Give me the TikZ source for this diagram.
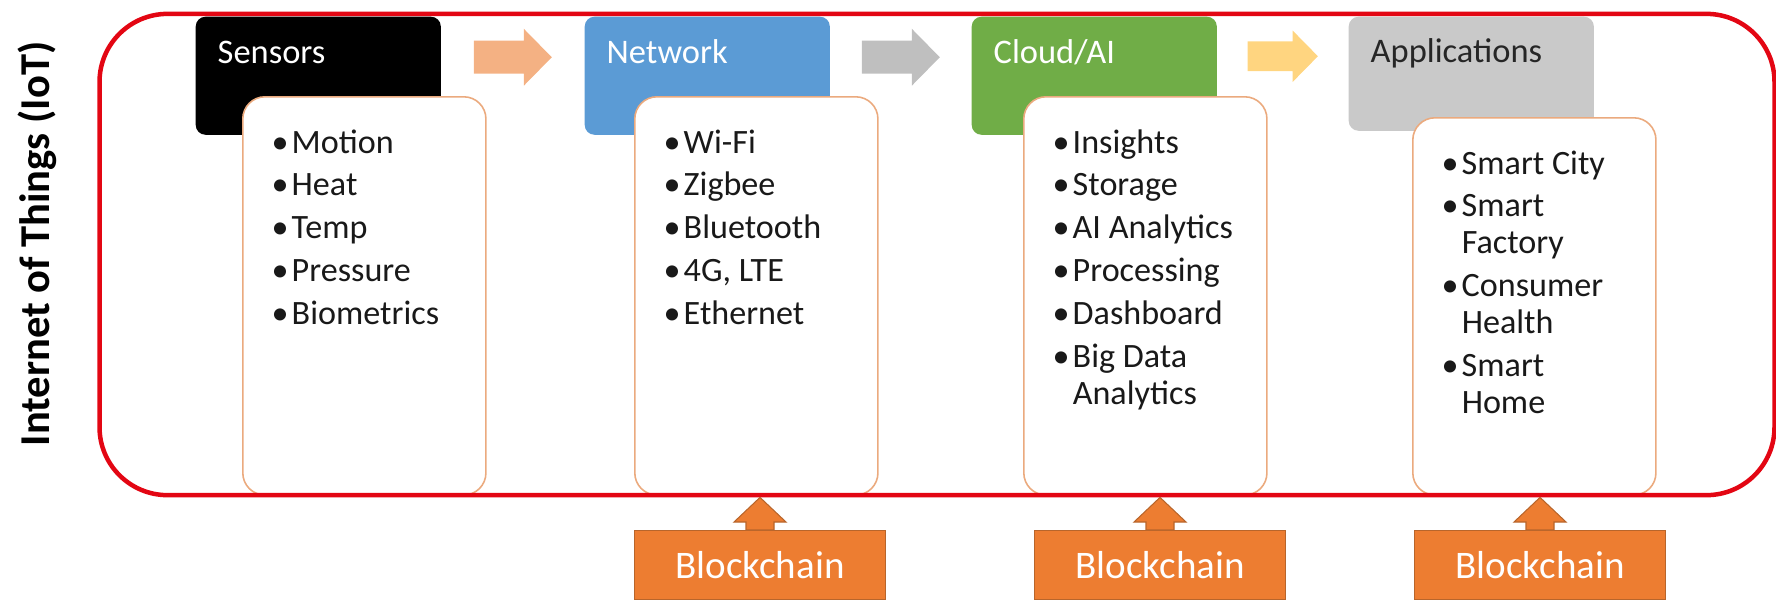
\documentclass[tikz,border=0pt]{standalone}
\usepackage{fontspec}
\setmainfont{Carlito}
\usetikzlibrary{positioning,calc}
\definecolor{netblue}{HTML}{5B9BD5}
\definecolor{cloudgreen}{HTML}{70AD47}
\definecolor{appgray}{HTML}{C9C9C9}
\definecolor{apptext}{HTML}{262626}
\definecolor{salmon}{HTML}{F4B183}
\definecolor{arrgray}{HTML}{BFBFBF}
\definecolor{arryellow}{HTML}{FFD580}
\definecolor{listline}{HTML}{EBAA7E}
\definecolor{framered}{HTML}{E30613}
\definecolor{chainorange}{HTML}{ED7D31}
\definecolor{chainline}{HTML}{B8652B}
\newcommand{\blt}[1]{\makebox[5.7pt][l]{\textbullet}#1}
\newcommand{\cnt}[1]{\hspace*{5.7pt}#1}

\begin{document}
\begin{tikzpicture}[x=0.01cm, y=-0.01cm,
		head/.style={anchor=north west, rounded corners=2.8pt, minimum width=2.45cm, minimum height=1.18cm, inner sep=0pt},
		headtxt/.style={anchor=base west, inner sep=0pt, font=\fontsize{9.8pt}{12pt}\selectfont},
		list/.style={anchor=north west, draw=listline, line width=0.45pt, fill=white, rounded corners=6.3pt, minimum width=2.43cm, inner sep=0pt},
		listtxt/.style={anchor=base west, inner sep=0pt, text=black!90, font=\fontsize{9.7pt}{10.5pt}\selectfont},
		frame/.style={draw=framered, line width=0.045cm, rounded corners=0.68cm, minimum width=16.74cm, minimum height=4.81cm, inner sep=0pt},
		chain/.style={fill=chainorange, draw=chainline, line width=0.3pt},
		flowarr/.pic={\path[pic actions] (-39,-16.5) -- (11,-16.5) -- (11,-28.5) -- (39,0) -- (11,28.5) -- (11,16.5) -- (-39,16.5) -- cycle;}]
	\useasboundingbox (0,0) rectangle (1776,599);
	\node[rotate=90, inner sep=0pt, font=\bfseries\fontsize{12.1pt}{14pt}\selectfont] (title) at (37,244) {Internet of Things (IoT)};
	\node[head, fill=black] (sens) at (195,16) {};
	\node[head, fill=netblue] (net) at (584,16) {};
	\node[head, fill=cloudgreen] (cloud) at (971,16) {};
	\node[head, fill=appgray, minimum height=1.14cm] (app) at (1348,16) {};
	\node[headtxt, text=white] (sensT) at ([shift={(22,47)}]sens.north west) {Sensors};
	\node[headtxt, text=white] (netT) at ([shift={(22,47)}]net.north west) {Network};
	\node[headtxt, text=white] (cloudT) at ([shift={(22,47)}]cloud.north west) {Cloud/AI};
	\node[headtxt, text=apptext] (appT) at ([shift={(22,46)}]app.north west) {Applications};
	\node[list, minimum height=3.98cm] (sensL) at (242,96) {};
	\node[list, minimum height=3.98cm] (netL) at (634,96) {};
	\node[list, minimum height=3.98cm] (cloudL) at (1023,96) {};
	\node[list, minimum height=3.77cm] (appL) at (1412,117) {};
	\node[listtxt] (sensI) at ([shift={(29,57)}]sensL.north west) {\parbox[t]{2cm}{\blt{Motion}\\[1.7pt]\blt{Heat}\\[1.7pt]\blt{Temp}\\[1.7pt]\blt{Pressure}\\[1.7pt]\blt{Biometrics}}};
	\node[listtxt] (netI) at ([shift={(29,57)}]netL.north west) {\parbox[t]{2cm}{\blt{Wi-Fi}\\[1.7pt]\blt{Zigbee}\\[1.7pt]\blt{Bluetooth}\\[1.7pt]\blt{4G, LTE}\\[1.7pt]\blt{Ethernet}}};
	\node[listtxt] (cloudI) at ([shift={(29,57)}]cloudL.north west) {\parbox[t]{2cm}{\blt{Insights}\\[1.7pt]\blt{Storage}\\[1.7pt]\blt{AI Analytics}\\[1.7pt]\blt{Processing}\\[1.7pt]\blt{Dashboard}\\[1.7pt]\blt{Big Data}\\\cnt{Analytics}}};
	\node[listtxt] (appI) at ([shift={(29,57)}]appL.north west) {\parbox[t]{2cm}{\blt{Smart City}\\[1.7pt]\blt{Smart}\\\cnt{Factory}\\[1.7pt]\blt{Consumer}\\\cnt{Health}\\[1.7pt]\blt{Smart}\\\cnt{Home}}};
	\pic[fill=salmon] at ($(sens.east)!0.5!(net.west)+(0,-18.5)$) {flowarr};
	\pic[fill=arrgray] at ($(net.east)!0.5!(cloud.west)+(0,-18.5)$) {flowarr};
	\pic[fill=arryellow, scale=0.9] at ($(cloud.east)!0.5!(app.west)+(0,-18.5)$) {flowarr};
	\node[frame] (iot) at (937,254.5) {};
	\node[chain, anchor=north, minimum width=2.5cm, minimum height=0.69cm, inner sep=0pt, text=white, font=\fontsize{11.1pt}{13pt}\selectfont] (bc1) at (760,530) {Blockchain};
	\node[chain, anchor=north, minimum width=2.5cm, minimum height=0.69cm, inner sep=0pt, text=white, font=\fontsize{11.1pt}{13pt}\selectfont] (bc2) at (1160,530) {Blockchain};
	\node[chain, anchor=north, minimum width=2.5cm, minimum height=0.69cm, inner sep=0pt, text=white, font=\fontsize{11.1pt}{13pt}\selectfont] (bc3) at (1540,530) {Blockchain};
	\foreach \b in {bc1,bc2,bc3}
		\filldraw[chain] ($(\b.north)+(-14,0)$) -- ++(0,-8) -- ++(-12,0) -- (\b.north |- iot.south) -- ($(\b.north)+(26,-8)$) -- ++(-12,0) -- ++(0,8) -- cycle;
\end{tikzpicture}
\end{document}
